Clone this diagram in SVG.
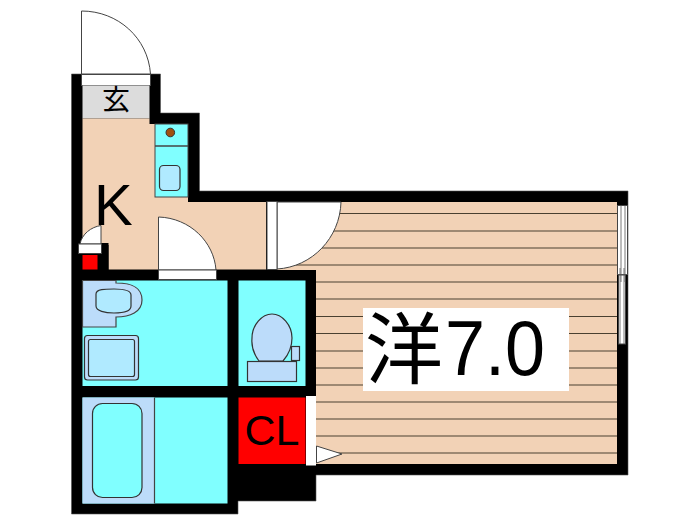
<svg xmlns="http://www.w3.org/2000/svg" width="700" height="525" viewBox="0 0 700 525">
<style>
.o{stroke:#444;stroke-width:1}
.fl{fill:#f2d2b6}
.cy{fill:#80ffff}
.bl{fill:#bcdcfa}
.lb{fill:#b0eaff}
.wh{fill:#fff}
.door{fill:#fff;stroke:#444;stroke-width:1}
.pl{stroke:#444;stroke-width:1.3;fill:none}
text{font-family:"Liberation Sans","Noto Sans CJK JP",sans-serif;fill:#000}
</style>
<rect width="700" height="525" fill="#fff"/>
<g id="walls">
<path d="M71.500 74H160.500V113H199.500V191H628V475H316V501H238V514H71.500Z" fill="#000" stroke="#555" stroke-width=".6"/>
</g>
<g id="entry">
<path class="door" d="M81.500 11C118 11 148 38 150.500 74H81.500Z"/>
<rect class="door" x="81.500" y="74.500" width="69" height="11"/>
<rect x="82.500" y="85.500" width="67" height="33" fill="#dcdcdc"/>
<text x="116" y="110" font-size="28" text-anchor="middle">玄</text>
</g>
<g id="kitchen">
<path class="fl" d="M82.500 118.500H149.500V124H155V197H188V202H266V269.500H108.500V243H82.500Z"/>
<rect class="cy o" x="155" y="124" width="33" height="73"/>
<path class="pl" d="M155 146H188"/>
<circle cx="170.300" cy="132.500" r="4.300" fill="#a05010" stroke="#333" stroke-width="1"/>
<rect class="lb" x="159.500" y="165.500" width="20.500" height="25" rx="4" stroke="#333" stroke-width="1.200"/>
<text x="94" y="225" font-size="58">K</text>
<path class="door" d="M158.500 217C190 218 214 242 216 270H158.500Z"/>
<rect class="door" x="158.500" y="270" width="58" height="9.500"/>
<rect x="82.500" y="245" width="26" height="25" fill="#000"/>
<path class="door" d="M101 225.500C91 227 82 234 80 244H101Z"/>
<rect class="door" x="78.500" y="244" width="23" height="9.500"/>
<rect x="82.500" y="255" width="15" height="14.500" fill="#f00"/>
</g>
<g id="room">
<rect class="fl" x="277" y="202" width="340" height="68"/>
<rect class="fl" x="316" y="270" width="301" height="194"/>
<path stroke="#4a4030" stroke-width="1.200" fill="none" d="M277 213.500H617M277 231H617M277 248H617M277 265H617M316 282H617M316 299H617M316 316.500H617M316 333.500H617M316 351H617M316 368H617M316 385H617M316 402H617M316 419H617M316 436H617M316 453H617"/>
<path class="door" d="M277 202H341C340 238 312 267 277 269Z"/>
<rect class="door" x="267" y="201.500" width="10" height="68"/>
<rect class="door" x="617.500" y="205.500" width="10" height="69"/>
<rect class="door" x="618.500" y="275" width="7" height="69"/>
<path d="M621 205.500V282M625 205.500V282M620 268V344M624 268V344M617.500 274.500H628" stroke="#555" stroke-width=".8" fill="none"/>
<rect x="363" y="308" width="206" height="83" fill="#fff"/>
<text x="365" y="378" font-size="78">洋</text>
<text x="445" y="375" font-size="78" textLength="100" lengthAdjust="spacingAndGlyphs">7.0</text>
</g>
<g id="washroom">
<rect class="cy" x="82.500" y="280.500" width="145" height="105.500"/>
<path class="bl" stroke="#444" stroke-width="1.200" d="M82.500 280.500H116V283C130 283 142 286 142 300C142 312 130 317 116 317V327H82.500Z"/>
<path class="lb" stroke="#333" stroke-width="1.200" d="M96 294C96 289 105 289 114 289C123 289 131 290 131 295V306C131 311 123 313 114 313C105 313 96 311 96 306Z"/>
<rect class="bl" x="84.500" y="335.500" width="54" height="44.500" rx="3" stroke="#333" stroke-width="1.200"/>
<rect class="lb" x="88.500" y="339.500" width="46" height="37" rx="2" stroke="#333" stroke-width="1.200"/>
</g>
<g id="bath">
<rect class="cy" x="82.500" y="397.500" width="145" height="106"/>
<rect class="bl" x="82.500" y="397.500" width="72" height="106"/>
<path d="M154.500 397.500V503.500" stroke="#444" stroke-width="1.200"/>
<rect class="cy" x="92.500" y="403.500" width="49.500" height="94" rx="10" stroke="#333" stroke-width="1.200"/>
</g>
<g id="toilet">
<rect class="cy" x="238.500" y="280.500" width="67" height="105.500"/>
<rect class="bl" x="291.500" y="346.500" width="8" height="14" stroke="#333" stroke-width="1.200"/>
<path class="bl" stroke="#333" stroke-width="1.200" d="M259 361C250 349 252 340 252 338C252 325 262 314 272 314C282 314 292 325 292 338C292 345 290 353 283 361Z"/>
<rect class="bl" x="247.500" y="361.500" width="49" height="20" stroke="#333" stroke-width="1.200"/>
</g>
<g id="closet">
<rect x="238.500" y="397.500" width="67" height="66.500" fill="#f00"/>
<text x="272" y="445" font-size="43" text-anchor="middle">CL</text>
<rect class="wh" x="306" y="396" width="10" height="69.500"/>
<path class="door" d="M316.500 446V463L342 454Z"/>
</g>
</svg>
